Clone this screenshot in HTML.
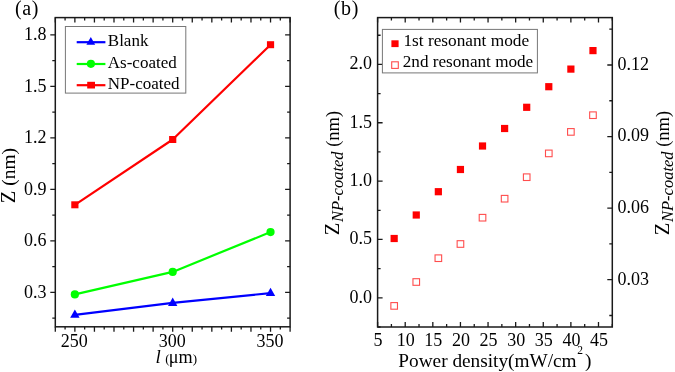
<!DOCTYPE html>
<html><head><meta charset="utf-8"><style>
html,body{margin:0;padding:0;background:#fff;}
body{width:675px;height:372px;overflow:hidden;font-family:"Liberation Serif",serif;}
svg{display:block;will-change:transform;}
</style></head><body>
<svg width="675" height="372" viewBox="0 0 675 372">
<rect width="675" height="372" fill="#fff"/>
<path d="M55.3 326.8L55.3 331.8 M55.3 17.6L55.3 22.6 M65.08 326.8L65.08 329.6 M65.08 17.6L65.08 20.4 M74.87 326.8L74.87 331.8 M74.87 17.6L74.87 22.6 M84.65 326.8L84.65 329.6 M84.65 17.6L84.65 20.4 M94.43 326.8L94.43 331.8 M94.43 17.6L94.43 22.6 M104.22 326.8L104.22 329.6 M104.22 17.6L104.22 20.4 M114 326.8L114 331.8 M114 17.6L114 22.6 M123.78 326.8L123.78 329.6 M123.78 17.6L123.78 20.4 M133.57 326.8L133.57 331.8 M133.57 17.6L133.57 22.6 M143.35 326.8L143.35 329.6 M143.35 17.6L143.35 20.4 M153.13 326.8L153.13 331.8 M153.13 17.6L153.13 22.6 M162.92 326.8L162.92 329.6 M162.92 17.6L162.92 20.4 M172.7 326.8L172.7 331.8 M172.7 17.6L172.7 22.6 M182.48 326.8L182.48 329.6 M182.48 17.6L182.48 20.4 M192.27 326.8L192.27 331.8 M192.27 17.6L192.27 22.6 M202.05 326.8L202.05 329.6 M202.05 17.6L202.05 20.4 M211.83 326.8L211.83 331.8 M211.83 17.6L211.83 22.6 M221.62 326.8L221.62 329.6 M221.62 17.6L221.62 20.4 M231.4 326.8L231.4 331.8 M231.4 17.6L231.4 22.6 M241.18 326.8L241.18 329.6 M241.18 17.6L241.18 20.4 M250.97 326.8L250.97 331.8 M250.97 17.6L250.97 22.6 M260.75 326.8L260.75 329.6 M260.75 17.6L260.75 20.4 M270.53 326.8L270.53 331.8 M270.53 17.6L270.53 22.6 M280.32 326.8L280.32 329.6 M280.32 17.6L280.32 20.4 M290.1 326.8L290.1 331.8 M290.1 17.6L290.1 22.6 M52.3 318.21L55.3 318.21 M287.1 318.21L290.1 318.21 M50.3 292.44L55.3 292.44 M285.1 292.44L290.1 292.44 M52.3 266.68L55.3 266.68 M287.1 266.68L290.1 266.68 M50.3 240.91L55.3 240.91 M285.1 240.91L290.1 240.91 M52.3 215.14L55.3 215.14 M287.1 215.14L290.1 215.14 M50.3 189.38L55.3 189.38 M285.1 189.38L290.1 189.38 M52.3 163.61L55.3 163.61 M287.1 163.61L290.1 163.61 M50.3 137.84L55.3 137.84 M285.1 137.84L290.1 137.84 M52.3 112.08L55.3 112.08 M287.1 112.08L290.1 112.08 M50.3 86.31L55.3 86.31 M285.1 86.31L290.1 86.31 M52.3 60.54L55.3 60.54 M287.1 60.54L290.1 60.54 M50.3 34.78L55.3 34.78 M285.1 34.78L290.1 34.78 M377.6 327L377.6 322 M377.6 17.6L377.6 22.6 M391.41 327L391.41 324 M391.41 17.6L391.41 20.6 M405.21 327L405.21 322 M405.21 17.6L405.21 22.6 M419.02 327L419.02 324 M419.02 17.6L419.02 20.6 M432.82 327L432.82 322 M432.82 17.6L432.82 22.6 M446.63 327L446.63 324 M446.63 17.6L446.63 20.6 M460.44 327L460.44 322 M460.44 17.6L460.44 22.6 M474.24 327L474.24 324 M474.24 17.6L474.24 20.6 M488.05 327L488.05 322 M488.05 17.6L488.05 22.6 M501.85 327L501.85 324 M501.85 17.6L501.85 20.6 M515.66 327L515.66 322 M515.66 17.6L515.66 22.6 M529.46 327L529.46 324 M529.46 17.6L529.46 20.6 M543.27 327L543.27 322 M543.27 17.6L543.27 22.6 M557.08 327L557.08 324 M557.08 17.6L557.08 20.6 M570.88 327L570.88 322 M570.88 17.6L570.88 22.6 M584.69 327L584.69 324 M584.69 17.6L584.69 20.6 M598.49 327L598.49 322 M598.49 17.6L598.49 22.6 M612.3 327L612.3 324 M612.3 17.6L612.3 20.6 M377.6 326.98L380.6 326.98 M377.6 297.8L382.6 297.8 M377.6 268.62L380.6 268.62 M377.6 239.45L382.6 239.45 M377.6 210.28L380.6 210.28 M377.6 181.1L382.6 181.1 M377.6 151.93L380.6 151.93 M377.6 122.75L382.6 122.75 M377.6 93.58L380.6 93.58 M377.6 64.4L382.6 64.4 M377.6 35.23L380.6 35.23 M609.3 315.49L612.3 315.49 M607.3 279.7L612.3 279.7 M609.3 243.91L612.3 243.91 M607.3 208.13L612.3 208.13 M609.3 172.34L612.3 172.34 M607.3 136.56L612.3 136.56 M609.3 100.77L612.3 100.77 M607.3 64.99L612.3 64.99 M609.3 29.2L612.3 29.2" stroke="#1a1a1a" stroke-width="1.3" fill="none"/>
<rect x="55.3" y="17.6" width="234.8" height="309.2" fill="none" stroke="#1a1a1a" stroke-width="1.5"/>
<rect x="377.6" y="17.6" width="234.7" height="309.4" fill="none" stroke="#1a1a1a" stroke-width="1.5"/>
<rect x="65.4" y="26.5" width="120.4" height="66.6" fill="#fff" stroke="#777" stroke-width="1"/>
<rect x="382.4" y="29.4" width="155" height="43.5" fill="#fff" stroke="#777" stroke-width="1"/>
<polyline points="74.87,314.8 172.7,302.9 270.53,293.1" fill="none" stroke="#0000ff" stroke-width="2.2" stroke-linejoin="round"/>
<polyline points="74.87,294.4 172.7,271.9 270.53,232.1" fill="none" stroke="#00ff00" stroke-width="2.2" stroke-linejoin="round"/>
<polyline points="74.87,204.8 172.7,139.5 270.53,44.7" fill="none" stroke="#ff0000" stroke-width="2.2" stroke-linejoin="round"/>
<path d="M74.87 309.4L79.57 317.8L70.17 317.8Z" fill="#0000ff"/>
<path d="M172.7 297.5L177.4 305.9L168 305.9Z" fill="#0000ff"/>
<path d="M270.53 287.7L275.23 296.1L265.83 296.1Z" fill="#0000ff"/>
<circle cx="74.87" cy="294.4" r="4.1" fill="#00ff00"/>
<circle cx="172.7" cy="271.9" r="4.1" fill="#00ff00"/>
<circle cx="270.53" cy="232.1" r="4.1" fill="#00ff00"/>
<rect x="71.27" y="201.3" width="7.2" height="7.0" fill="#ff0000"/>
<rect x="169.1" y="136" width="7.2" height="7.0" fill="#ff0000"/>
<rect x="266.93" y="41.2" width="7.2" height="7.0" fill="#ff0000"/>
<line x1="76.7" y1="42.2" x2="105.4" y2="42.2" stroke="#0000ff" stroke-width="2.2"/>
<line x1="76.7" y1="64" x2="105.4" y2="64" stroke="#00ff00" stroke-width="2.2"/>
<line x1="76.7" y1="85.2" x2="105.4" y2="85.2" stroke="#ff0000" stroke-width="2.2"/>
<path d="M90.8 37L95.2 44.8L86.4 44.8Z" fill="#0000ff"/>
<circle cx="90.9" cy="63.8" r="4.1" fill="#00ff00"/>
<rect x="87.2" y="81.8" width="7.8" height="6.7" fill="#ff0000"/>
<rect x="390.57" y="234.9" width="7.2" height="7.2" fill="#ff0000"/>
<rect x="412.66" y="211.4" width="7.2" height="7.2" fill="#ff0000"/>
<rect x="434.75" y="188.1" width="7.2" height="7.2" fill="#ff0000"/>
<rect x="456.84" y="165.9" width="7.2" height="7.2" fill="#ff0000"/>
<rect x="478.92" y="142.4" width="7.2" height="7.2" fill="#ff0000"/>
<rect x="501.01" y="124.9" width="7.2" height="7.2" fill="#ff0000"/>
<rect x="523.1" y="103.7" width="7.2" height="7.2" fill="#ff0000"/>
<rect x="545.19" y="83.1" width="7.2" height="7.2" fill="#ff0000"/>
<rect x="567.28" y="65.5" width="7.2" height="7.2" fill="#ff0000"/>
<rect x="589.37" y="47" width="7.2" height="7.2" fill="#ff0000"/>
<rect x="390.87" y="302.6" width="6.6" height="6.6" fill="none" stroke="#ff4d4d" stroke-width="1.1"/>
<rect x="412.96" y="278.7" width="6.6" height="6.6" fill="none" stroke="#ff4d4d" stroke-width="1.1"/>
<rect x="435.05" y="254.9" width="6.6" height="6.6" fill="none" stroke="#ff4d4d" stroke-width="1.1"/>
<rect x="457.14" y="240.7" width="6.6" height="6.6" fill="none" stroke="#ff4d4d" stroke-width="1.1"/>
<rect x="479.22" y="214.4" width="6.6" height="6.6" fill="none" stroke="#ff4d4d" stroke-width="1.1"/>
<rect x="501.31" y="195.4" width="6.6" height="6.6" fill="none" stroke="#ff4d4d" stroke-width="1.1"/>
<rect x="523.4" y="173.9" width="6.6" height="6.6" fill="none" stroke="#ff4d4d" stroke-width="1.1"/>
<rect x="545.49" y="150.1" width="6.6" height="6.6" fill="none" stroke="#ff4d4d" stroke-width="1.1"/>
<rect x="567.58" y="128.6" width="6.6" height="6.6" fill="none" stroke="#ff4d4d" stroke-width="1.1"/>
<rect x="589.67" y="111.9" width="6.6" height="6.6" fill="none" stroke="#ff4d4d" stroke-width="1.1"/>
<rect x="391.4" y="40.3" width="7.2" height="6.8" fill="#ff0000"/>
<rect x="391.7" y="61.8" width="6.6" height="6.6" fill="none" stroke="#ff4d4d" stroke-width="1.1"/>
<text x="46.6" y="297.64" font-size="18" text-anchor="end" font-family="Liberation Serif, serif" fill="#000" >0.3</text>
<text x="46.6" y="246.11" font-size="18" text-anchor="end" font-family="Liberation Serif, serif" fill="#000" >0.6</text>
<text x="46.6" y="194.58" font-size="18" text-anchor="end" font-family="Liberation Serif, serif" fill="#000" >0.9</text>
<text x="46.6" y="143.04" font-size="18" text-anchor="end" font-family="Liberation Serif, serif" fill="#000" >1.2</text>
<text x="46.6" y="91.51" font-size="18" text-anchor="end" font-family="Liberation Serif, serif" fill="#000" >1.5</text>
<text x="46.6" y="39.98" font-size="18" text-anchor="end" font-family="Liberation Serif, serif" fill="#000" >1.8</text>
<text x="74.37" y="346.9" font-size="18" text-anchor="middle" font-family="Liberation Serif, serif" fill="#000" >250</text>
<text x="172.2" y="346.9" font-size="18" text-anchor="middle" font-family="Liberation Serif, serif" fill="#000" >300</text>
<text x="270.03" y="346.9" font-size="18" text-anchor="middle" font-family="Liberation Serif, serif" fill="#000" >350</text>
<text x="372" y="302.6" font-size="18" text-anchor="end" font-family="Liberation Serif, serif" fill="#000" >0.0</text>
<text x="372" y="244.25" font-size="18" text-anchor="end" font-family="Liberation Serif, serif" fill="#000" >0.5</text>
<text x="372" y="185.9" font-size="18" text-anchor="end" font-family="Liberation Serif, serif" fill="#000" >1.0</text>
<text x="372" y="127.55" font-size="18" text-anchor="end" font-family="Liberation Serif, serif" fill="#000" >1.5</text>
<text x="372" y="69.2" font-size="18" text-anchor="end" font-family="Liberation Serif, serif" fill="#000" >2.0</text>
<text x="378.1" y="345.6" font-size="18" text-anchor="middle" font-family="Liberation Serif, serif" fill="#000" >5</text>
<text x="405.71" y="345.6" font-size="18" text-anchor="middle" font-family="Liberation Serif, serif" fill="#000" >10</text>
<text x="433.32" y="345.6" font-size="18" text-anchor="middle" font-family="Liberation Serif, serif" fill="#000" >15</text>
<text x="460.94" y="345.6" font-size="18" text-anchor="middle" font-family="Liberation Serif, serif" fill="#000" >20</text>
<text x="488.55" y="345.6" font-size="18" text-anchor="middle" font-family="Liberation Serif, serif" fill="#000" >25</text>
<text x="516.16" y="345.6" font-size="18" text-anchor="middle" font-family="Liberation Serif, serif" fill="#000" >30</text>
<text x="543.77" y="345.6" font-size="18" text-anchor="middle" font-family="Liberation Serif, serif" fill="#000" >35</text>
<text x="571.38" y="345.6" font-size="18" text-anchor="middle" font-family="Liberation Serif, serif" fill="#000" >40</text>
<text x="598.99" y="345.6" font-size="18" text-anchor="middle" font-family="Liberation Serif, serif" fill="#000" >45</text>
<text x="617.6" y="284.5" font-size="18" text-anchor="start" font-family="Liberation Serif, serif" fill="#000" >0.03</text>
<text x="617.6" y="212.93" font-size="18" text-anchor="start" font-family="Liberation Serif, serif" fill="#000" >0.06</text>
<text x="617.6" y="141.36" font-size="18" text-anchor="start" font-family="Liberation Serif, serif" fill="#000" >0.09</text>
<text x="617.6" y="69.79" font-size="18" text-anchor="start" font-family="Liberation Serif, serif" fill="#000" >0.12</text>
<text x="107.8" y="45.8" font-size="17" text-anchor="start" font-family="Liberation Serif, serif" fill="#000" >Blank</text>
<text x="107.8" y="67.6" font-size="17" text-anchor="start" font-family="Liberation Serif, serif" fill="#000" >As-coated</text>
<text x="107.8" y="89" font-size="17" text-anchor="start" font-family="Liberation Serif, serif" fill="#000" >NP-coated</text>
<text x="403.4" y="45.8" font-size="17.3" text-anchor="start" font-family="Liberation Serif, serif" fill="#000" >1st resonant mode</text>
<text x="402.8" y="67.3" font-size="17.15" text-anchor="start" font-family="Liberation Serif, serif" fill="#000" >2nd resonant mode</text>
<text x="15" y="14.8" font-size="20" text-anchor="start" font-family="Liberation Serif, serif" fill="#000" letter-spacing="0.6">(a)</text>
<text x="333.8" y="14.8" font-size="20" text-anchor="start" font-family="Liberation Serif, serif" fill="#000" letter-spacing="0.6">(b)</text>
<text transform="translate(15.2,203.2) rotate(-90)" font-size="19.5" font-family="Liberation Serif, serif" fill="#000"><tspan font-size="20.5">Z</tspan> (nm)</text>
<text x="155.6" y="362.8" font-size="19" font-family="Liberation Serif, serif" fill="#000"><tspan font-style="italic">l</tspan><tspan font-size="13" dx="4.3" dy="0.5">(</tspan><tspan font-size="18.2" dx="-0.9">μm</tspan><tspan font-size="13" dx="0.2">)</tspan></text>
<text x="398.3" y="366.7" font-size="19.3" font-family="Liberation Serif, serif" fill="#000">Power density(mW/cm<tspan font-size="11.5" dx="0.6" dy="-12.4">2</tspan><tspan dx="2" dy="12.4">)</tspan></text>
<text transform="translate(338.6,235.2) rotate(-90)" font-size="20.5" font-family="Liberation Serif, serif" fill="#000">Z<tspan font-style="italic" font-size="16.5" dx="0.7" dy="4.2">NP-coated</tspan><tspan dy="-4.2" font-size="18.5"> (nm)</tspan></text>
<text transform="translate(669,235.2) rotate(-90)" font-size="20.5" font-family="Liberation Serif, serif" fill="#000">Z<tspan font-style="italic" font-size="16.5" dx="0.7" dy="4.2">NP-coated</tspan><tspan dy="-4.2" font-size="18.5"> (nm)</tspan></text>
</svg>
</body></html>
